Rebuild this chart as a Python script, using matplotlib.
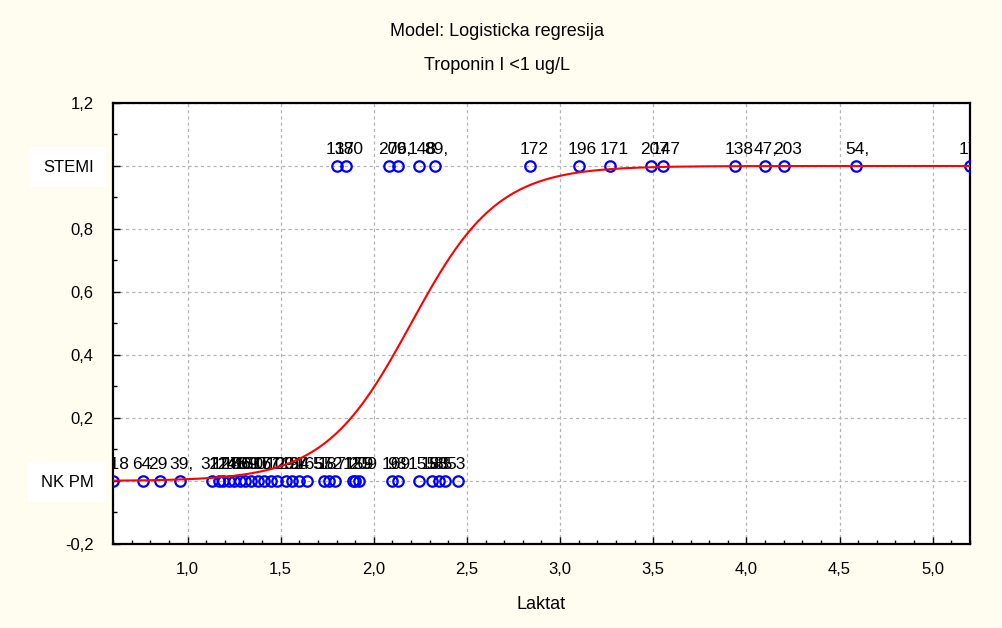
import numpy as np
import matplotlib.pyplot as plt
from matplotlib.ticker import MultipleLocator, FuncFormatter
from matplotlib.transforms import offset_copy

plt.rcParams['font.family'] = ['Liberation Sans', 'DejaVu Sans']

# NK PM group (coded 0): Laktat values and case labels
nkpm_x = [0.60, 0.76, 0.85, 0.96, 1.13, 1.17, 1.19, 1.22, 1.25, 1.28, 1.31,
          1.34, 1.38, 1.41, 1.45, 1.48, 1.53, 1.56, 1.60, 1.64, 1.73, 1.76,
          1.79, 1.89, 1.90, 1.92, 2.10, 2.13, 2.24, 2.31, 2.35, 2.38, 2.45]
nkpm_lab = ["118", "64", "29", "39,", "32", "124", "128", "146", "106", "78",
            "150", "69", "90", "161", "77", "109", "201", "134", "97", "165",
            "57", "187", "52", "125", "159", "209", "169", "98", "155", "183",
            "58", "85", "53"]

# STEMI group (coded 1)
stemi_x = [1.80, 1.85, 2.08, 2.13, 2.24, 2.33, 2.84, 3.10, 3.27, 3.49, 3.55,
           3.94, 4.10, 4.20, 4.59, 5.20]
stemi_lab = ["137", "180", "206", "79,", "148", "89,", "172", "196", "171",
             "207", "147", "138", "47,", "203", "54,", "173"]

# logistic model coefficients
b0 = -9.46
b1 = 4.3

ytick_pos = [-0.2, 0.0, 0.2, 0.4, 0.6, 0.8, 1.0, 1.2]
ytick_lab = ["-0,2", "NK PM", "0,2", "0,4", "0,6", "0,8", "STEMI", "1,2"]

fig = plt.figure(figsize=(10.02, 6.28), dpi=100, facecolor='#fffdf0')
ax = fig.add_axes([0.1128, 0.1338, 0.8552, 0.7022])
ax.set_facecolor('white')

ax.plot(nkpm_x, np.zeros(len(nkpm_x)), 'o', mfc='none', mec='blue', ms=7.5, mew=1.6, zorder=3)
ax.plot(stemi_x, np.ones(len(stemi_x)), 'o', mfc='none', mec='blue', ms=7.5, mew=1.6, zorder=3)

xs = np.linspace(0.6, 5.2, 400)
ys = 1.0 / (1.0 + np.exp(-(b0 + b1 * xs)))
ax.plot(xs, ys, color='red', lw=1.5, zorder=4)

tr = offset_copy(ax.transData, fig=fig, x=-11, y=12, units='dots')
for x, lab in zip(nkpm_x, nkpm_lab):
    ax.text(x, 0, lab, transform=tr, ha='left', va='baseline', fontsize=12.5, clip_on=True)
for x, lab in zip(stemi_x, stemi_lab):
    ax.text(x, 1, lab, transform=tr, ha='left', va='baseline', fontsize=12.5, clip_on=True)

ax.set_xlim(0.6, 5.2)
ax.set_ylim(-0.2, 1.2)
ax.xaxis.set_major_locator(MultipleLocator(0.5))
ax.xaxis.set_minor_locator(MultipleLocator(0.1))
ax.xaxis.set_major_formatter(FuncFormatter(lambda v, p: f"{v:.1f}".replace('.', ',')))
ax.set_yticks(ytick_pos)
ax.set_yticklabels(ytick_lab)
ax.yaxis.set_minor_locator(MultipleLocator(0.1))

ax.tick_params(which='both', direction='in', colors='black', labelsize=12)
ax.tick_params(which='major', length=5, width=1)
ax.tick_params(which='minor', length=3, width=1)
ax.tick_params(axis='x', pad=13)
ax.tick_params(axis='y', pad=14)

for lab in ax.get_yticklabels():
    if lab.get_text() in ("STEMI", "NK PM"):
        lab.set_bbox(dict(facecolor='white', edgecolor='none', boxstyle='square,pad=0.75'))

ax.grid(True, which='major', color='#b4b4b4', linestyle=(0, (2.5, 2.5)), lw=0.9)
for s in ax.spines.values():
    s.set_linewidth(1.6)
    s.set_color('black')

ax.set_xlabel("Laktat", fontsize=13, labelpad=14)
fig.text(0.496, 1 - 32 / 628, "Model: Logisticka regresija", ha='center', va='center', fontsize=13)
fig.text(0.496, 1 - 66 / 628, "Troponin I <1 ug/L", ha='center', va='center', fontsize=13)

fig.savefig("out.png", dpi=100, facecolor=fig.get_facecolor())
